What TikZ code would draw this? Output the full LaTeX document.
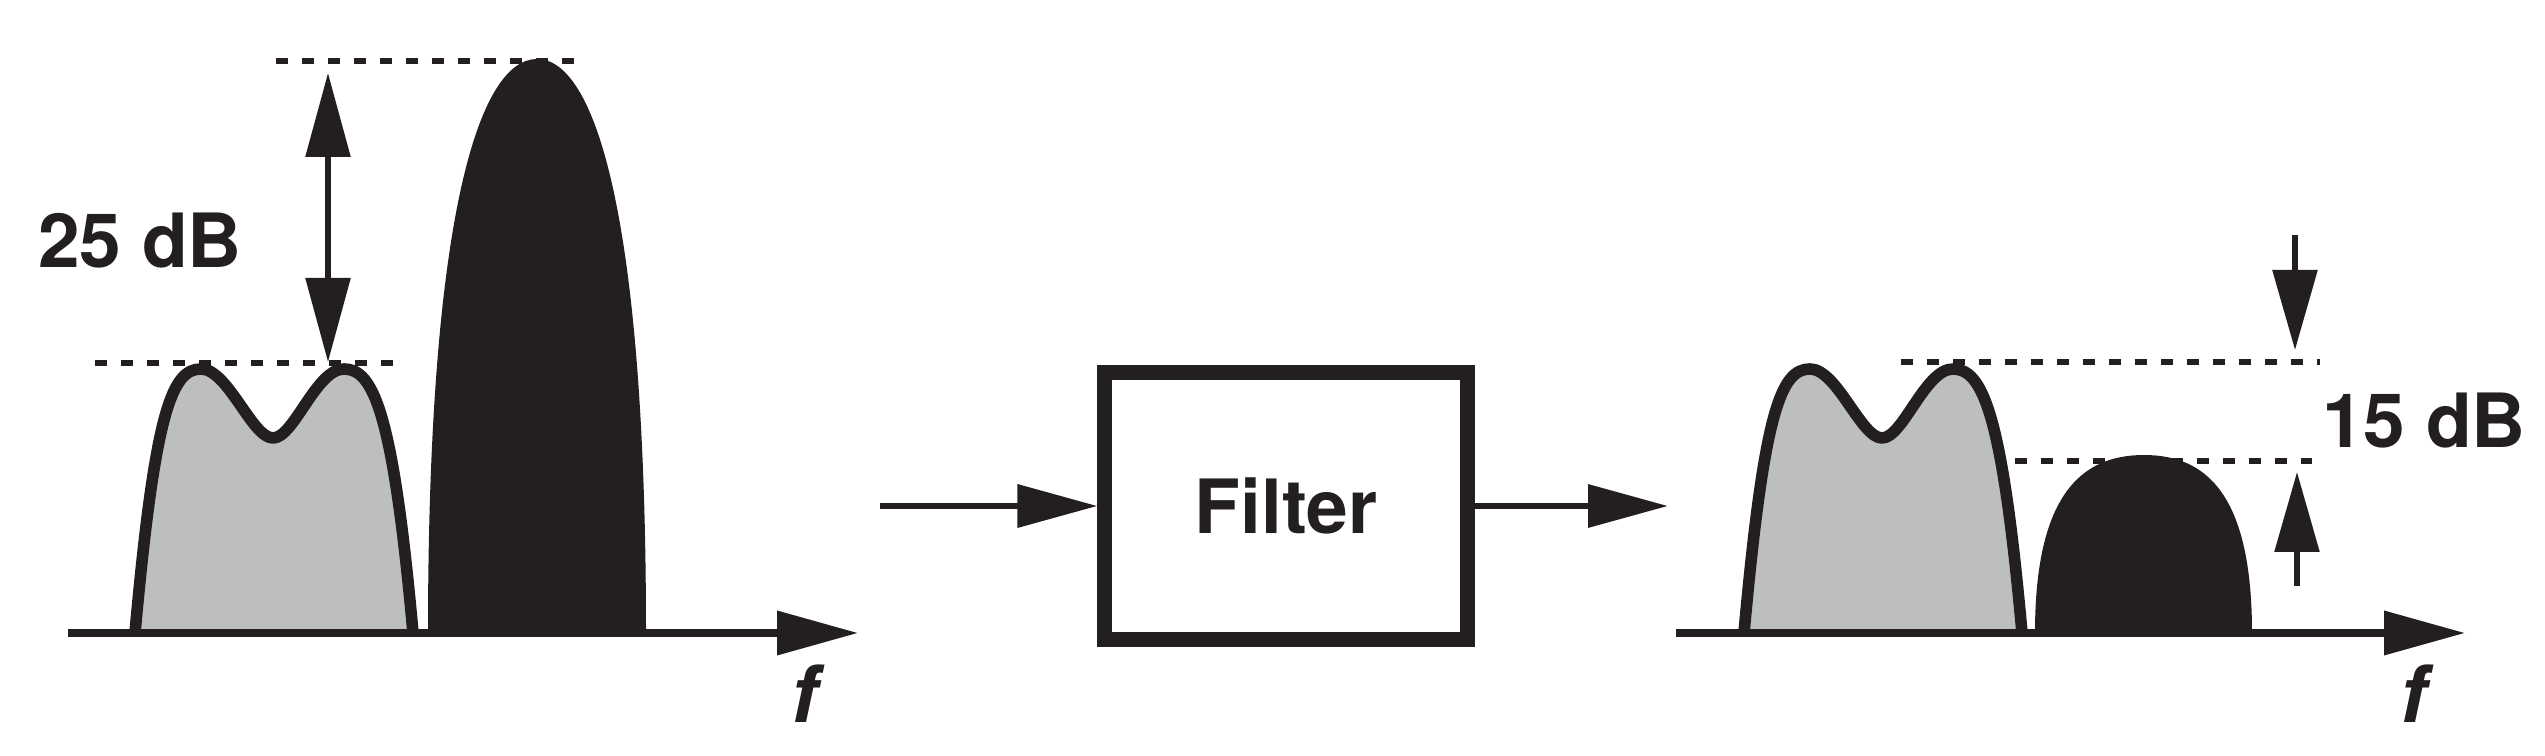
\documentclass[tikz,border=0pt]{standalone}
\usepackage{xcolor}
\usepackage{fontspec}
\setmainfont{TeX Gyre Heros}
\usepackage{tikz}
\usetikzlibrary{arrows.meta}
\usetikzlibrary{positioning}
\definecolor{inkblack}{HTML}{231F20}
\definecolor{bandgray}{HTML}{BCBEC0}

\begin{document}
\begin{tikzpicture}[
	line join=round,
	font=\fontsize{21.3}{24}\selectfont\bfseries,
	text=inkblack
]
\tikzset{
    axisline/.style = {draw=inkblack, line width=2pt, -{Triangle[length=0.81cm,width=0.43cm]}},
		sigline/.style = {draw=inkblack, line width=1.9pt, -{Triangle[length=0.80cm,width=0.42cm]}},
		dimarrow/.style = {draw=inkblack, line width=1.6pt, {Triangle[length=0.84cm,width=0.44cm]}-{Triangle[length=0.84cm,width=0.44cm]}},
		dimhalf/.style = {draw=inkblack, line width=1.6pt, -{Triangle[length=0.80cm,width=0.44cm]}},
		levelline/.style = {draw=inkblack, line width=1.5pt, dash pattern=on 0.12cm off 0.14cm},
		wanted/.style = {draw=inkblack, fill=bandgray, line width=3.3pt},
		blocker/.style = {fill=inkblack},
		filterbox/.style = {rectangle, draw=inkblack, line width=4pt, line join=miter, minimum width=3.63cm, minimum height=2.67cm, inner sep=0pt},
		freqlabel/.style = {font=\fontsize{22.5}{24}\selectfont\bfseries\itshape}
}
\useasboundingbox (0,0) rectangle (25.45,7.56);
% input spectrum
\fill[blocker] (4.28,1.23) .. controls (4.28,5.45) and (4.80,6.97) .. (5.37,6.97)
	.. controls (5.94,6.97) and (6.46,5.45) .. (6.46,1.23) -- cycle;
\draw[wanted] (1.35,1.23) .. controls (1.55,3.45) and (1.72,3.87) .. (2.01,3.87)
	.. controls (2.28,3.87) and (2.52,3.18) .. (2.73,3.18)
	.. controls (2.94,3.18) and (3.16,3.87) .. (3.44,3.87)
	.. controls (3.73,3.87) and (3.93,3.45) .. (4.13,1.23);
\coordinate (axL0) at (0.68,1.23);
\coordinate (axL1) at (8.58,1.23);
\draw[axisline] (axL0) -- (axL1);
\node[freqlabel] (fL) at (8.05,0.62) {f};
\draw[levelline] (2.76,6.95) -- (5.74,6.95);
\draw[levelline] (0.95,3.93) -- (3.93,3.93);
\coordinate (topL) at (3.28,6.83);
\coordinate (botL) at (3.28,3.94);
\draw[dimarrow] (topL) -- (botL);
\node (gain25) at (1.40,5.15) {25 dB};
% filter
\node[filterbox] (filt) at (12.86,2.50) {Filter};
\coordinate (sigin) at (8.80,2.50);
\coordinate (sigout) at (16.68,2.50);
\draw[sigline] (sigin) -- (filt.west);
\draw[sigline] (filt.east) -- (sigout);
% output spectrum
\begin{scope}[xshift=16.09cm]
\draw[wanted] (1.35,1.23) .. controls (1.55,3.45) and (1.72,3.87) .. (2.01,3.87)
	.. controls (2.28,3.87) and (2.52,3.18) .. (2.73,3.18)
	.. controls (2.94,3.18) and (3.16,3.87) .. (3.44,3.87)
	.. controls (3.73,3.87) and (3.93,3.45) .. (4.13,1.23);
\end{scope}
\fill[blocker] (20.35,1.23) .. controls (20.35,2.62) and (20.82,3.01) .. (21.44,3.01)
	.. controls (22.06,3.01) and (22.52,2.62) .. (22.52,1.23) -- cycle;
\coordinate (axR0) at (16.76,1.23);
\coordinate (axR1) at (24.65,1.23);
\draw[axisline] (axR0) -- (axR1);
\node[freqlabel] (fR) at (24.14,0.62) {f};
\draw[levelline] (19.01,3.94) -- (23.20,3.94);
\draw[levelline] (20.15,2.95) -- (23.12,2.95);
\coordinate (topR0) at (22.95,5.21);
\coordinate (topR1) at (22.95,4.06);
\coordinate (botR0) at (22.97,1.70);
\coordinate (botR1) at (22.97,2.84);
\draw[dimhalf] (topR0) -- (topR1);
\draw[dimhalf] (botR0) -- (botR1);
\node (gain15) at (24.24,3.35) {15 dB};
\end{tikzpicture}
\end{document}
